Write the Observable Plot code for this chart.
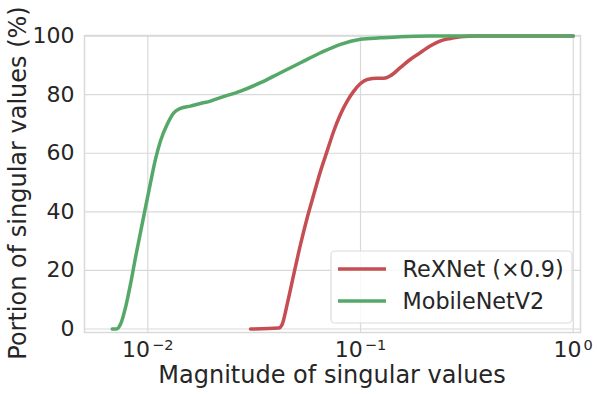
<!DOCTYPE html>
<html>
<head>
<meta charset="utf-8">
<script src="https://cdn.jsdelivr.net/npm/d3@7"></script>
<script src="https://cdn.jsdelivr.net/npm/@observablehq/plot@0.6"></script>
<style>
  html, body { margin: 0; padding: 0; background: #fff; }
  #chart { width: 598px; height: 395px; }
</style>
</head>
<body>
<div id="chart"></div>
<script>
// ---- data ----
const seriesNames = ["ReXNet (×0.9)", "MobileNetV2"];
const seriesColors = ["#C44E52", "#55A868"];

const rexX = [0.0304, 0.04129, 0.04285, 0.04523, 0.04858, 0.05224, 0.05616, 0.06033, 0.06486, 0.06972, 0.07489, 0.08054, 0.0866, 0.093, 0.1, 0.1075, 0.1198, 0.1287, 0.1384, 0.1542, 0.1718, 0.1915, 0.2134, 0.2377, 0.2649, 0.2952, 0.3472, 1.0];
const rexY = [0, 0.3, 1.6, 8.5, 18.7, 28.9, 38.0, 46.0, 53.9, 60.8, 67.6, 73.3, 77.8, 81.2, 83.8, 85.2, 85.6, 85.6, 86.5, 89.3, 92.1, 94.4, 96.7, 98.4, 99.2, 99.8, 100, 100];

const mobX = [0.006803, 0.007125, 0.007441, 0.007854, 0.008293, 0.008753, 0.00924, 0.009754, 0.0103, 0.01087, 0.01147, 0.01234, 0.01325, 0.01424, 0.01588, 0.01769, 0.01971, 0.02197, 0.02728, 0.03388, 0.04207, 0.05224, 0.06486, 0.08054, 0.1, 0.1242, 0.1542, 0.2134, 0.35, 1.0];
const mobY = [0, 0, 1.6, 7.3, 15.3, 24.4, 33.0, 41.5, 50.0, 58.0, 64.2, 69.9, 73.8, 75.3, 76.1, 77.0, 77.8, 79.0, 81.2, 84.1, 87.5, 90.9, 94.3, 97.2, 98.9, 99.4, 99.8, 100, 100, 100];

const xTicks = [0.01, 0.1, 1];
const yTicks = [0, 20, 40, 60, 80, 100];
const xLabel = "Magnitude of singular values";
const yLabel = "Portion of singular values (%)";

const rex = rexX.map((x, i) => ({x, y: rexY[i]}));
const mob = mobX.map((x, i) => ({x, y: mobY[i]}));

const gridColor = "#d9d9d9";
const textColor = "#262626";

const chart = Plot.plot({
  width: 598,
  height: 395,
  marginLeft: 84,
  marginRight: 18,
  marginTop: 35,
  marginBottom: 63,
  style: {fontFamily: "DejaVu Sans", fontSize: "22px", color: textColor, background: "white"},
  x: {type: "log", domain: [0.00504, 1.082]},
  y: {domain: [-1.2, 100.2]},
  marks: [
    Plot.gridX(xTicks, {stroke: gridColor, strokeOpacity: 1, strokeWidth: 1.2}),
    Plot.gridY(yTicks, {stroke: gridColor, strokeOpacity: 1, strokeWidth: 1.2}),
    Plot.frame({stroke: gridColor, strokeWidth: 1.5}),
    Plot.axisX(xTicks, {tickSize: 0, tickPadding: 9, fontSize: 22, label: null,
      tickFormat: d => "10^" + String(Math.round(Math.log10(d))).replace("-", "\u2212")}),
    Plot.axisY(yTicks, {tickSize: 0, tickPadding: 10, fontSize: 22, label: null}),
    Plot.line(rex, {x: "x", y: "y", stroke: seriesColors[0], strokeWidth: 3.5, curve: "monotone-x"}),
    Plot.line(mob, {x: "x", y: "y", stroke: seriesColors[1], strokeWidth: 3.5, curve: "monotone-x"})
  ]
});

document.getElementById("chart").appendChild(chart);

const svg = d3.select(chart);

// superscript exponents on x tick labels
svg.selectAll('g[aria-label="x-axis tick label"] text').each(function() {
  const t = d3.select(this);
  const s = t.text();
  if (s.indexOf("^") < 0) return;
  const [base, exp] = s.split("^");
  t.text(null);
  t.append("tspan").text(base);
  t.append("tspan").attr("dy", "-7.5").attr("dx", "2").attr("font-size", "14.5px").text(exp);
});

// axis labels
svg.append("text")
  .attr("x", 332).attr("y", 382.5)
  .attr("text-anchor", "middle")
  .attr("font-family", "DejaVu Sans").attr("font-size", "24px").attr("fill", textColor)
  .text(xLabel);
svg.append("text")
  .attr("transform", "translate(25.5,183) rotate(-90)")
  .attr("text-anchor", "middle")
  .attr("font-family", "DejaVu Sans").attr("font-size", "24px").attr("fill", textColor)
  .text(yLabel);

// legend
const lg = svg.append("g");
lg.append("rect")
  .attr("x", 331).attr("y", 251).attr("width", 241).attr("height", 72).attr("rx", 4)
  .attr("fill", "white").attr("fill-opacity", 0.8)
  .attr("stroke", "#dcdcdc").attr("stroke-width", 1.2);
seriesNames.forEach((name, i) => {
  const cy = 269 + i * 32;
  lg.append("line")
    .attr("x1", 338).attr("x2", 386).attr("y1", cy).attr("y2", cy)
    .attr("stroke", seriesColors[i]).attr("stroke-width", 3.5);
  lg.append("text")
    .attr("x", 402.5).attr("y", cy).attr("dy", "0.36em")
    .attr("text-anchor", "start")
    .attr("font-family", "DejaVu Sans").attr("font-size", "22.3px").attr("fill", textColor)
    .text(name);
});
</script>
</body>
</html>
